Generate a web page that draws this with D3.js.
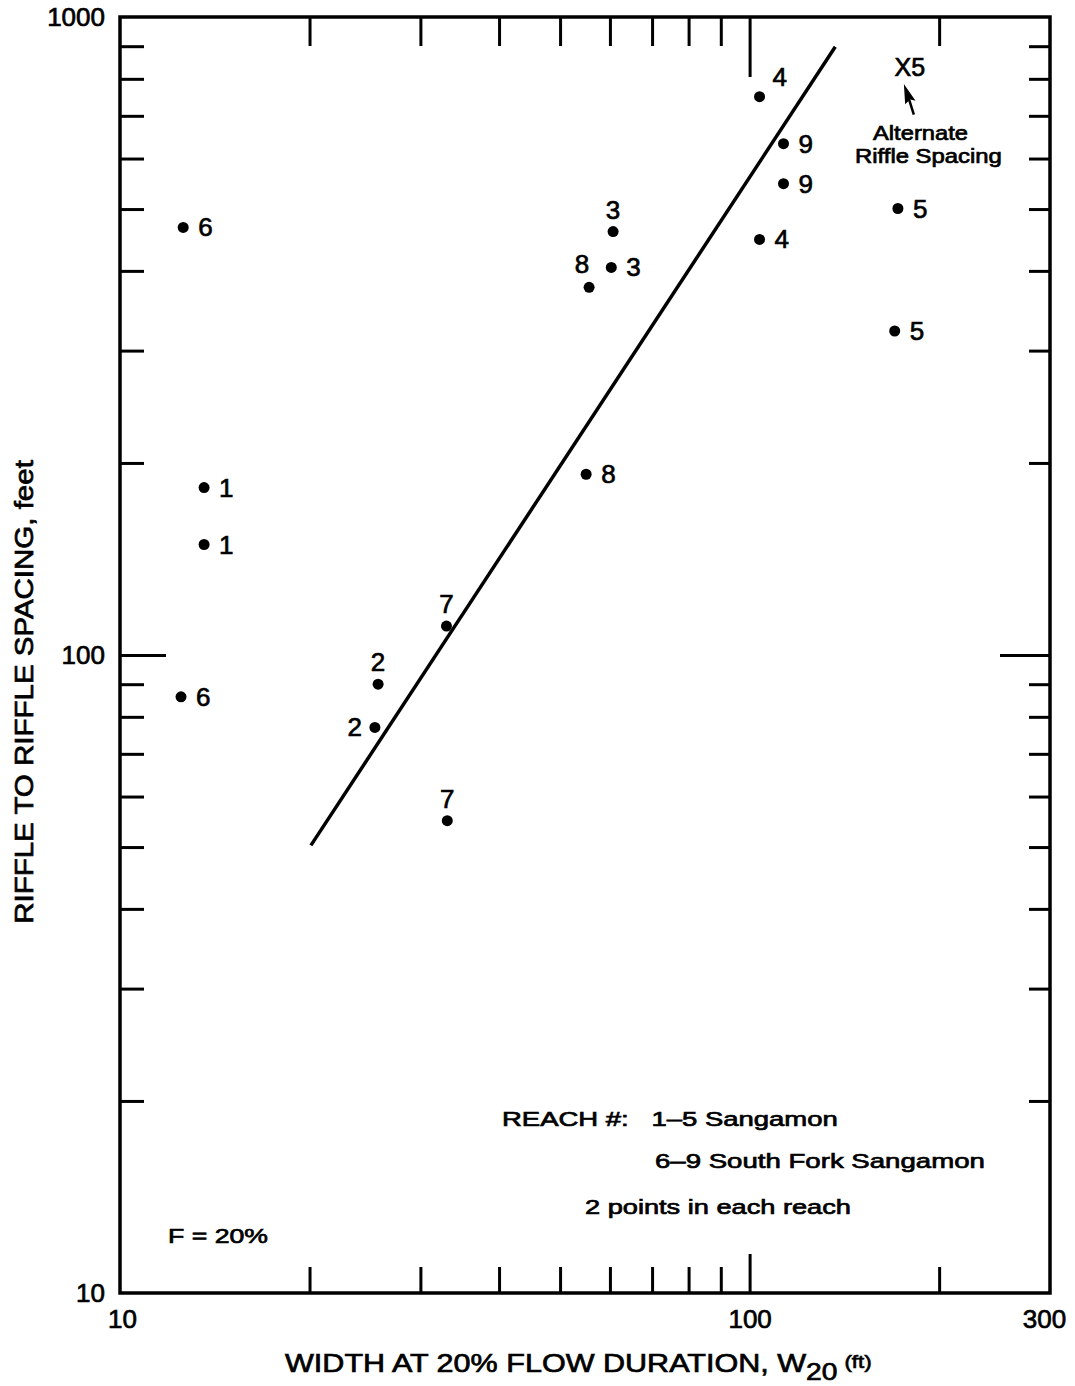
<!DOCTYPE html>
<html lang="en">

<head>
  <meta charset="UTF-8">
  <script src="https://cdnjs.cloudflare.com/ajax/libs/d3/7.8.5/d3.min.js"></script>
  <title>Riffle spacing vs width</title>
  <style>
    body { margin: 0; background: #fff; }
    text { font-family: "Liberation Sans", Arial, sans-serif; fill: #000; stroke: #000; stroke-width: 0.7px; }
  </style>
</head>

<body>
  <div id="chart"></div>
  <script>
    // reach numbers, width W20 (ft), riffle spacing (ft)
    const reach = [6, 6, 1, 1, 2, 2, 7, 7, 3, 3, 8, 8, 4, 4, 9, 9, 5, 5]
    const width20 = [12.6, 12.5, 13.6, 13.6, 25.7, 25.4, 33.0, 33.1, 60.7, 60.3, 55.6, 55.0, 103.7, 103.7, 113.2, 113.2, 172, 170]
    const spacing = [468, 86, 183, 149, 90, 77, 111, 55, 461, 405, 377, 192, 750, 448, 633, 548, 501, 322]
    // where the reach number sits next to its dot
    const labelSide = ['r', 'r', 'r', 'r', 't', 'l', 't', 't', 't', 'r', 'tl', 'r', 'tr', 'r', 'r', 'r', 'r', 'r']

    // fitted line ends
    const fitW = [20.1, 136.8]
    const fitS = [50.3, 898]

    // alternate riffle spacing for reach 5
    const altW = 179, altS = 836

    const xMinor = [20, 30, 40, 50, 60, 70, 80, 90, 200]
    const yMinor = [20, 30, 40, 50, 60, 70, 80, 90, 200, 300, 400, 500, 600, 700, 800, 900]
    const xLabels = [10, 100, 300]
    const yLabels = [10, 100, 1000]

    const W = 1075, H = 1386
    const m = { left: 120, right: 1050, top: 17, bottom: 1293 }

    const svg = d3.select('#chart').append('svg')
      .attr('width', W).attr('height', H)

    const x = d3.scaleLog().domain([10, 300]).range([m.left, m.right])
    const y = d3.scaleLog().domain([10, 1000]).range([m.bottom, m.top])

    // the scanned lettering is an extended face, so stretch Arial sideways to the same width
    function stretch(t, tx, ty, target, rot) {
      const w = t.node().getBBox().width
      t.attr('transform', `translate(${tx},${ty})${rot ? ' rotate(-90)' : ''} scale(${target / w},1)`)
      return t
    }

    function tickAxis(axis, t, size) {
      const g = svg.append('g')
        .attr('transform', t)
        .call(axis.tickSize(size).tickFormat(''))
      g.select('.domain').remove()
      g.selectAll('line').attr('stroke', '#000').attr('stroke-width', 3)
      return g
    }

    // inward ticks on all four sides
    tickAxis(d3.axisBottom(x).tickValues(xMinor), `translate(0,${m.bottom})`, -26)
    tickAxis(d3.axisBottom(x).tickValues([100]), `translate(0,${m.bottom})`, -39)
    tickAxis(d3.axisTop(x).tickValues(xMinor), `translate(0,${m.top})`, -29)
    tickAxis(d3.axisTop(x).tickValues([100]), `translate(0,${m.top})`, -60)
    tickAxis(d3.axisLeft(y).tickValues(yMinor), `translate(${m.left},0)`, -24)
    tickAxis(d3.axisLeft(y).tickValues([100]), `translate(${m.left},0)`, -46)
    tickAxis(d3.axisRight(y).tickValues(yMinor), `translate(${m.right},0)`, -21)
    tickAxis(d3.axisRight(y).tickValues([100]), `translate(${m.right},0)`, -50)

    // frame
    svg.append('rect')
      .attr('x', m.left).attr('y', m.top)
      .attr('width', m.right - m.left).attr('height', m.bottom - m.top)
      .attr('fill', 'none').attr('stroke', '#000').attr('stroke-width', 3.5)

    // tick labels
    const xl = svg.append('g')
      .attr('transform', `translate(0,${m.bottom})`)
      .call(d3.axisBottom(x).tickValues(xLabels).tickSize(0).tickPadding(17).tickFormat(d3.format('d')))
    xl.select('.domain').remove()
    xl.selectAll('text').attr('fill', '#000').style('font-size', '26px')
      .attr('dx', (d, i) => i == 0 ? 2 : (i == 2 ? -6 : 0))

    const yl = svg.append('g')
      .attr('transform', `translate(${m.left},0)`)
      .call(d3.axisLeft(y).tickValues(yLabels).tickSize(0).tickPadding(15).tickFormat(d3.format('d')))
    yl.select('.domain').remove()
    yl.selectAll('text').attr('fill', '#000').style('font-size', '26px')

    // axis titles
    const yt = svg.append('text')
      .attr('text-anchor', 'middle')
      .style('font-size', '25px')
      .text('RIFFLE TO RIFFLE SPACING, feet')
    stretch(yt, 33, 692, 464, true)

    const xt = svg.append('text')
      .style('font-size', '26px')
    xt.append('tspan').text('WIDTH AT 20% FLOW DURATION, W')
    xt.append('tspan').attr('dy', 8).style('font-size', '24px').text('20')
    xt.append('tspan').attr('dy', -12).attr('dx', 6).style('font-size', '19px').text('(ft)')
    stretch(xt, 285, 1372, 587)

    // fitted line
    svg.append('path')
      .datum(d3.zip(fitW, fitS))
      .attr('d', d3.line().x(d => x(d[0])).y(d => y(d[1])))
      .attr('fill', 'none').attr('stroke', '#000').attr('stroke-width', 3.5)

    // points
    const pts = d3.range(reach.length).map(i => ({
      r: reach[i], w: width20[i], s: spacing[i], side: labelSide[i]
    }))

    svg.selectAll('circle.pt')
      .data(pts).join('circle')
      .attr('class', 'pt')
      .attr('cx', d => x(d.w)).attr('cy', d => y(d.s))
      .attr('r', 5.5).attr('fill', '#000')

    const off = { r: [15, 9, 'start'], l: [-13, 9, 'end'], t: [0, -13, 'middle'], tl: [-7, -14, 'middle'], tr: [13, -11, 'start'] }
    svg.selectAll('text.lab')
      .data(pts).join('text')
      .attr('class', 'lab')
      .attr('x', d => x(d.w) + off[d.side][0])
      .attr('y', d => y(d.s) + off[d.side][1])
      .attr('text-anchor', d => off[d.side][2])
      .style('font-size', '26px')
      .text(d => d.r)

    // alternate point
    svg.append('text')
      .attr('x', x(altW) + 1).attr('y', y(altS) + 9)
      .attr('text-anchor', 'middle')
      .style('font-size', '25px')
      .text('X5')
    const ax = x(altW), ay = y(altS)
    svg.append('path')
      .attr('d', `M${ax + 5},${ay + 48} L${ax},${ay + 32}`)
      .attr('stroke', '#000').attr('stroke-width', 2.5)
    svg.append('path')
      .attr('d', `M${ax - 4},${ay + 20} L${ax + 5},${ay + 33} L${ax + 1},${ay + 32} L${ax - 3},${ay + 36} z`)
      .attr('fill', '#000').attr('stroke', '#000').attr('stroke-width', 1.5)
    stretch(svg.append('text').style('font-size', '20px').text('Alternate'), 873, 140, 95)
    stretch(svg.append('text').style('font-size', '20px').text('Riffle Spacing'), 855, 163, 147)

    // notes
    const note = (tx, ty, s, w) => stretch(svg.append('text')
      .style('font-size', '21px').text(s), tx, ty, w)
    note(502, 1126, 'REACH #:\u00a0\u00a0 1\u20135 Sangamon', 336)
    note(655, 1168, '6\u20139 South Fork Sangamon', 330)
    note(585, 1214, '2 points in each reach', 266)
    note(168, 1243, 'F = 20%', 100)
  </script>
</body>

</html>
